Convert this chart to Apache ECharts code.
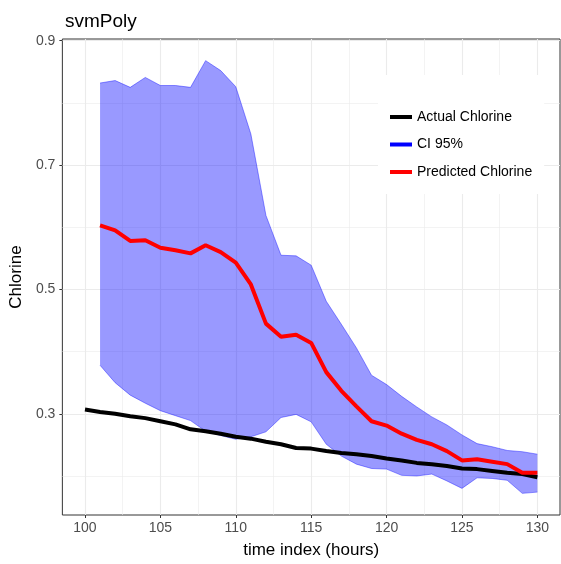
<!DOCTYPE html>
<html>
<head>
<meta charset="utf-8">
<script src="https://cdn.jsdelivr.net/npm/echarts@6/dist/echarts.min.js"></script>
<style>html,body{margin:0;padding:0;background:#fff}#c{width:561px;height:564px}</style>
</head>
<body>
<div id="c"></div>
<script>
var actualX = [100,101,102,103,104,105,106,107,108,109,110,111,112,113,114,115,116,117,118,119,120,121,122,123,124,125,126,127,128,129,130];
var actual = [0.307,0.303,0.300,0.296,0.293,0.288,0.283,0.275,0.272,0.268,0.263,0.260,0.255,0.251,0.245,0.244,0.240,0.237,0.235,0.232,0.228,0.225,0.221,0.219,0.216,0.212,0.211,0.208,0.205,0.203,0.198];
var predX = [101,102,103,104,105,106,107,108,109,110,111,112,113,114,115,116,117,118,119,120,121,122,123,124,125,126,127,128,129,130];
var predicted = [0.603,0.595,0.578,0.579,0.567,0.563,0.558,0.571,0.560,0.543,0.508,0.445,0.424,0.427,0.414,0.367,0.337,0.312,0.288,0.281,0.268,0.258,0.251,0.240,0.225,0.227,0.223,0.219,0.205,0.205];
var ciUpper = [0.832,0.836,0.825,0.841,0.828,0.828,0.825,0.868,0.852,0.826,0.750,0.619,0.555,0.554,0.539,0.481,0.444,0.406,0.362,0.347,0.328,0.311,0.295,0.282,0.266,0.252,0.247,0.241,0.239,0.235];
var ciLower = [0.378,0.350,0.330,0.317,0.305,0.297,0.289,0.272,0.265,0.259,0.263,0.271,0.294,0.299,0.287,0.251,0.232,0.219,0.212,0.211,0.201,0.200,0.203,0.192,0.180,0.197,0.196,0.193,0.172,0.174];
var xTicks = [100,105,110,115,120,125,130];
var xMinor = [102.5,107.5,112.5,117.5,122.5,127.5];
var yTicks = [0.3,0.5,0.7,0.9];
var yMinor = [0.2,0.4,0.6,0.8];

var allY = ciUpper.concat(ciLower, actual, predicted);
var yLo = Math.min.apply(null, allY), yHi = Math.max.apply(null, allY);
var yPad = (yHi - yLo) * 0.05;
var xLo = Math.min.apply(null, actualX), xHi = Math.max.apply(null, actualX);
var xPad = (xHi - xLo) * 0.05;

function pairs(xs, ys) { return xs.map(function (x, i) { return [x, ys[i]]; }); }
var ciData = predX.map(function (x, i) { return [x, ciLower[i], ciUpper[i]]; });

var FONT = '"Liberation Sans", Arial, Helvetica, sans-serif';
var chart = echarts.init(document.getElementById('c'), null, {renderer: 'canvas'});
var gridCol = '#ebebeb';
var ciFill = 'rgba(0,0,255,0.4)';
chart.setOption({
  animation: false,
  backgroundColor: '#fff',
  title: {
    text: 'svmPoly', left: 60, top: 7,
    textStyle: {fontFamily: FONT, fontSize: 19, fontWeight: 'normal', color: '#000'}
  },
  grid: {left: 61, right: 1, top: 39, bottom: 49, show: true, borderColor: '#333', borderWidth: 1, backgroundColor: 'transparent'},
  legend: {
    orient: 'vertical', left: 378, top: 75,
    padding: [35, 12, 15, 12],
    backgroundColor: '#fff',
    itemWidth: 22, itemHeight: 4, itemGap: 13.5,
    selectedMode: false,
    textStyle: {fontFamily: FONT, fontSize: 14, color: '#000', lineHeight: 14},
    data: [
      {name: 'Actual Chlorine', icon: 'rect', itemStyle: {color: '#000'}},
      {name: 'CI 95%', icon: 'rect', itemStyle: {color: '#0000ff'}},
      {name: 'Predicted Chlorine', icon: 'rect', itemStyle: {color: '#ff0000'}}
    ]
  },
  xAxis: [{
    type: 'value', min: xLo - xPad, max: xHi + xPad,
    name: 'time index (hours)', nameLocation: 'middle', nameGap: 27,
    nameTextStyle: {fontFamily: FONT, fontSize: 17, color: '#000'},
    axisLine: {show: false},
    axisTick: {show: true, length: 3, customValues: xTicks, lineStyle: {color: '#333'}},
    axisLabel: {customValues: xTicks, margin: 6, fontFamily: FONT, fontSize: 14, color: '#4d4d4d'},
    splitLine: {show: true, lineStyle: {color: gridCol, width: 1.1}}
  }, {
    type: 'value', min: xLo - xPad, max: xHi + xPad, position: 'bottom',
    axisLine: {show: false}, axisLabel: {show: false},
    axisTick: {show: false, customValues: xMinor},
    splitLine: {show: true, lineStyle: {color: gridCol, width: 0.6}}
  }],
  yAxis: [{
    type: 'value', min: yLo - yPad, max: yHi + yPad,
    name: 'Chlorine', nameLocation: 'middle', nameGap: 30, nameRotate: 90,
    nameTextStyle: {fontFamily: FONT, fontSize: 17, color: '#000'},
    axisLine: {show: false},
    axisTick: {show: true, length: 3, customValues: yTicks, lineStyle: {color: '#333'}},
    axisLabel: {customValues: yTicks, margin: 7, fontFamily: FONT, fontSize: 14, color: '#4d4d4d',
      formatter: function (v) { return v.toFixed(1); }},
    splitLine: {show: true, lineStyle: {color: gridCol, width: 1.1}}
  }, {
    type: 'value', min: yLo - yPad, max: yHi + yPad, position: 'left',
    axisLine: {show: false}, axisLabel: {show: false},
    axisTick: {show: false, customValues: yMinor},
    splitLine: {show: true, lineStyle: {color: gridCol, width: 0.6}}
  }],
  series: [
    {
      name: 'CI 95%', type: 'custom',
      data: ciData,
      encode: {x: 0, y: [1, 2]},
      itemStyle: {color: '#0000ff'},
      silent: true, z: 2,
      renderItem: function (params, api) {
        if (params.dataIndex !== 0) return null;
        var up = ciData.map(function (d) { return api.coord([d[0], d[2]]); });
        var lo = ciData.map(function (d) { return api.coord([d[0], d[1]]); });
        var poly = up.concat(lo.slice().reverse());
        return {
          type: 'group',
          children: [
            {type: 'polygon', shape: {points: poly}, style: {fill: ciFill, stroke: null}},
            {type: 'polyline', shape: {points: up}, style: {fill: null, stroke: ciFill, lineWidth: 1}},
            {type: 'polyline', shape: {points: lo}, style: {fill: null, stroke: ciFill, lineWidth: 1}}
          ]
        };
      }
    },
    {
      name: 'Actual Chlorine', type: 'line', symbol: 'none',
      data: pairs(actualX, actual),
      lineStyle: {color: '#000', width: 4}, itemStyle: {color: '#000'}, z: 3
    },
    {
      name: 'Predicted Chlorine', type: 'line', symbol: 'none',
      data: pairs(predX, predicted),
      lineStyle: {color: '#ff0000', width: 4}, itemStyle: {color: '#ff0000'}, z: 4
    }
  ]
});
</script>
</body>
</html>
